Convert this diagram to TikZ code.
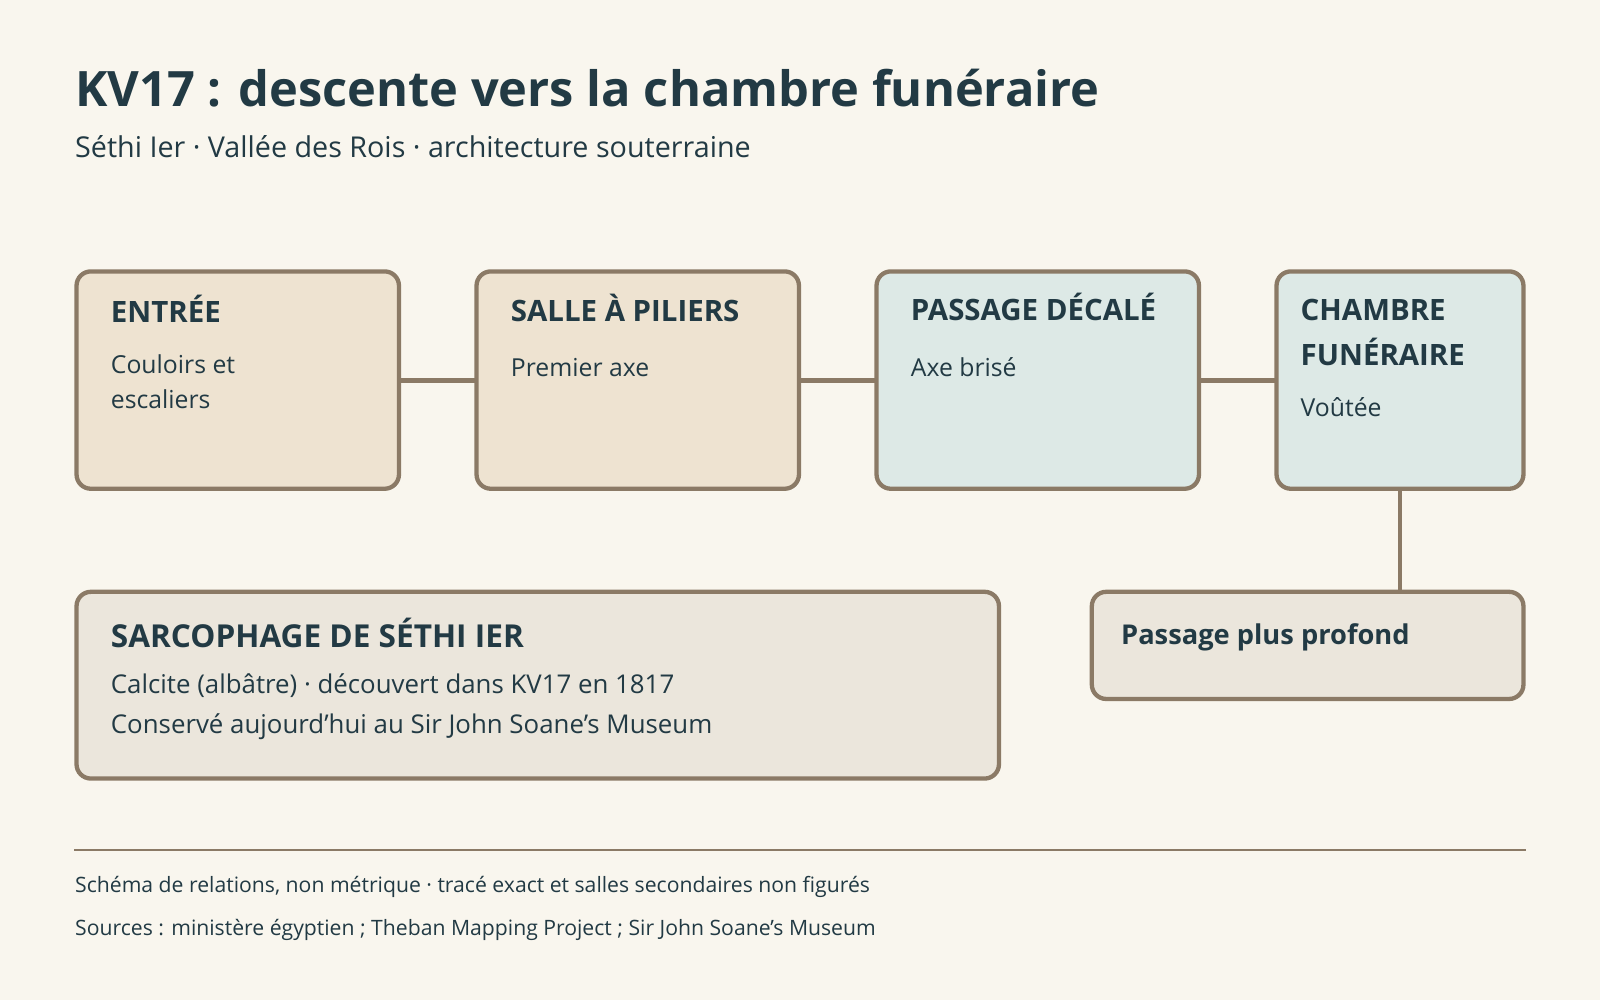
\documentclass[tikz,border=0pt]{standalone}
\usepackage{fontspec}
\setmainfont{Open Sans}
\definecolor{bg}{HTML}{F9F6EE}
\definecolor{ink}{HTML}{223A44}
\definecolor{edge}{HTML}{8B7A66}
\definecolor{sand}{HTML}{EEE3D1}
\definecolor{teal}{HTML}{DDE9E6}
\definecolor{grey}{HTML}{EBE6DC}
\begin{document}
\begin{tikzpicture}[x=0.01cm,y=-0.01cm,
  box/.style={draw=edge,line width=1.2pt,rounded corners=4pt},
  link/.style={draw=edge,line width=1.2pt},
  t/.style={anchor=base west,inner sep=0,text=ink},
  hd/.style={t,font=\fontsize{8.2}{10}\selectfont\bfseries},
  bd/.style={t,font=\fontsize{6.9}{9.6}\selectfont}]
\fill[bg] (0,0) rectangle (1568,980);
\useasboundingbox (0,0) rectangle (1568,980);
\node[t,font=\fontsize{13.6}{16}\selectfont\bfseries] (title) at (73,104) {KV17 : descente vers la chambre funéraire};
\node[t,font=\fontsize{8}{10}\selectfont] (sub) at (73,154) {Séthi Ier · Vallée des Rois · architecture souterraine};

\path[box,fill=sand] (75,266) rectangle (391,479) coordinate (e2);
\coordinate (e1) at (75,266);
\path[box,fill=sand] (467,266) rectangle (783,479);
\path[box,fill=teal] (859,266) rectangle (1175,479);
\path[box,fill=teal] (1251,266) rectangle (1493,479);
\path[box,fill=grey] (75,580) rectangle (979,763);
\path[box,fill=grey] (1070,580) rectangle (1493,685);
\coordinate (a1) at (391,373); \coordinate (a2) at (467,373);
\coordinate (b1) at (783,373); \coordinate (b2) at (859,373);
\coordinate (c1) at (1175,373); \coordinate (c2) at (1251,373);
\coordinate (d1) at (1372,479); \coordinate (d2) at (1372,580);
\draw[link] (a1)--(a2); \draw[link] (b1)--(b2); \draw[link] (c1)--(c2); \draw[link] (d1)--(d2);

\node[hd] (n1) at (108,316) {ENTRÉE};
\node[bd] (n1b) at (108,366) {Couloirs et};
\node[bd] (n1c) at (108,400) {escaliers};
\node[hd] (n2) at (500,315) {SALLE À PILIERS};
\node[bd] (n2b) at (500,369) {Premier axe};
\node[hd] (n3) at (892,314) {PASSAGE DÉCALÉ};
\node[bd] (n3b) at (892,369) {Axe brisé};
\node[hd] (n4) at (1274,314) {CHAMBRE};
\node[hd] (n4b) at (1274,358) {FUNÉRAIRE};
\node[bd] (n4c) at (1274,408) {Voûtée};
\node[hd,font=\fontsize{8.8}{10}\selectfont\bfseries] (n5) at (108,635) {SARCOPHAGE DE SÉTHI IER};
\node[bd,font=\fontsize{7.2}{9}\selectfont] (n5b) at (108,680) {Calcite (albâtre) · découvert dans KV17 en 1817};
\node[bd,font=\fontsize{7.2}{9}\selectfont] (n5c) at (108,719) {Conservé aujourd'hui au Sir John Soane's Museum};
\node[hd,font=\fontsize{7.6}{9}\selectfont\bfseries] (n6) at (1098,632) {Passage plus profond};

\coordinate (l1) at (73,833); \coordinate (l2) at (1495,833);
\draw[draw=edge,line width=0.5pt] (l1)--(l2);
\node[t,font=\fontsize{5.9}{7}\selectfont] (f1) at (73,875) {Schéma de relations, non métrique · tracé exact et salles secondaires non figurés};
\node[t,font=\fontsize{5.9}{7}\selectfont] (f2) at (73,917) {Sources : ministère égyptien ; Theban Mapping Project ; Sir John Soane's Museum};
\end{tikzpicture}
\end{document}
